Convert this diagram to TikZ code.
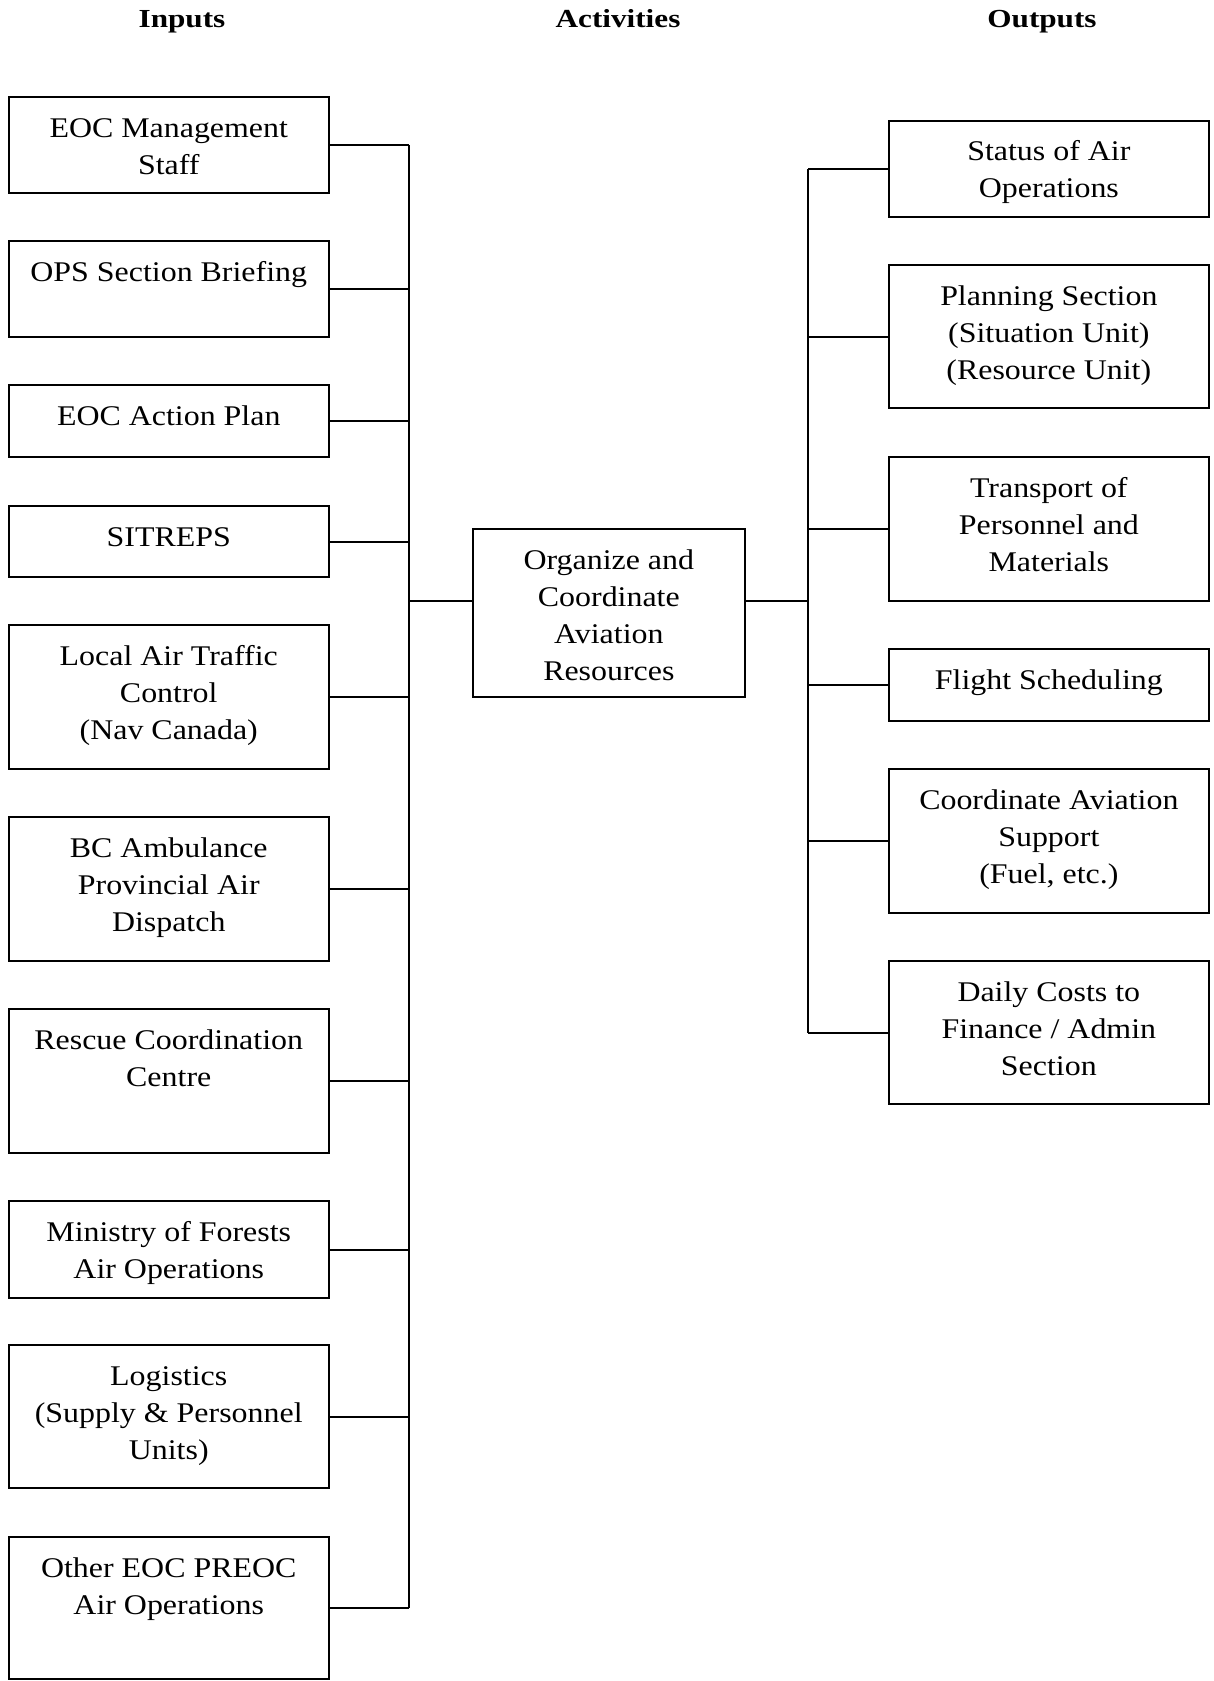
\documentclass[tikz,border=0pt]{standalone}
\usepackage{fontspec}
\setmainfont{Liberation Serif}
\newfontfamily\bodyfont{Liberation Serif}[FakeStretch=1.12]
\newfontfamily\headfont{Liberation Serif}[FakeStretch=1.2]
\usetikzlibrary{calc}

\tikzset{
  frame/.style={draw, line width=2pt, rectangle, inner sep=0pt},
  boxtext/.style={inner sep=0pt, anchor=base, font=\bodyfont\fontsize{28.5}{37}\selectfont},
  heading/.style={inner sep=0pt, anchor=base, font=\headfont\bfseries\fontsize{26}{30}\selectfont},
  link/.style={line width=2pt},
}

% \flowbox{name}{left}{top}{right}{bottom}{text}
\newcommand\flowbox[6]{%
  \node[frame, minimum width={(#4)-(#2)}, minimum height={(#5)-(#3)}]
    (#1) at ({((#2)+(#4))/2},{((#3)+(#5))/2}) {};
  \node[boxtext] at ({((#2)+(#4))/2},{(#3)+40})
    {\parbox[t]{400pt}{\centering #6}};
}

\begin{document}
\begin{tikzpicture}[x=1pt, y=-1pt]
\useasboundingbox (0,0) rectangle (1214,1681);

% column headings
\node[heading] (hin)  at (182,27.7)  {Inputs};
\node[heading] (hact) at (618,27.7)  {Activities};
\node[heading] (hout) at (1042,27.7) {Outputs};

% inputs
\flowbox{in1}{8.5}{97}{329}{193}{EOC Management\\Staff}
\flowbox{in2}{8.5}{241}{329}{337}{OPS Section Briefing}
\flowbox{in3}{8.5}{385}{329}{457}{EOC Action Plan}
\flowbox{in4}{8.5}{506}{329}{577}{SITREPS}
\flowbox{in5}{8.5}{625}{329}{769}{Local Air Traffic\\Control\\(Nav Canada)}
\flowbox{in6}{8.5}{817}{329}{961}{BC Ambulance\\Provincial Air\\Dispatch}
\flowbox{in7}{8.5}{1009}{329}{1153}{Rescue Coordination\\Centre}
\flowbox{in8}{8.5}{1201}{329}{1298}{Ministry of Forests\\Air Operations}
\flowbox{in9}{8.5}{1345}{329}{1488}{Logistics\\(Supply \& Personnel\\Units)}
\flowbox{in10}{8.5}{1537}{329}{1679}{Other EOC PREOC\\Air Operations}

% activity
\flowbox{act}{472.7}{529}{745}{697}{Organize and\\Coordinate\\Aviation\\Resources}

% outputs
\flowbox{out1}{888.7}{120.7}{1209}{216.7}{Status of Air\\Operations}
\flowbox{out2}{888.7}{265}{1209}{408}{Planning Section\\(Situation Unit)\\(Resource Unit)}
\flowbox{out3}{888.7}{457}{1209}{601}{Transport of\\Personnel and\\Materials}
\flowbox{out4}{888.7}{649}{1209}{721}{Flight Scheduling}
\flowbox{out5}{888.7}{769}{1209}{913}{Coordinate Aviation\\Support\\(Fuel, etc.)}
\flowbox{out6}{888.7}{961}{1209}{1104}{Daily Costs to\\Finance / Admin\\Section}

% bus lines and junction level
\coordinate (lbus) at (409,0);
\coordinate (rbus) at (808,0);
\coordinate (junc) at (0,601);

% inputs to left bus
\foreach \i in {1,...,10}
  \draw[link] (in\i.east) -- (in\i.east -| lbus);
\draw[link] (in1.east -| lbus) -- (in10.east -| lbus);

% left bus -> activity -> right bus
\draw[link] (lbus |- junc) -- (act.west |- junc);
\draw[link] (act.east |- junc) -- (rbus |- junc);

% right bus to outputs
\foreach \i in {1,...,6}
  \draw[link] (out\i.west -| rbus) -- (out\i.west);
\draw[link] (out1.west -| rbus) -- (out6.west -| rbus);
\end{tikzpicture}
\end{document}
